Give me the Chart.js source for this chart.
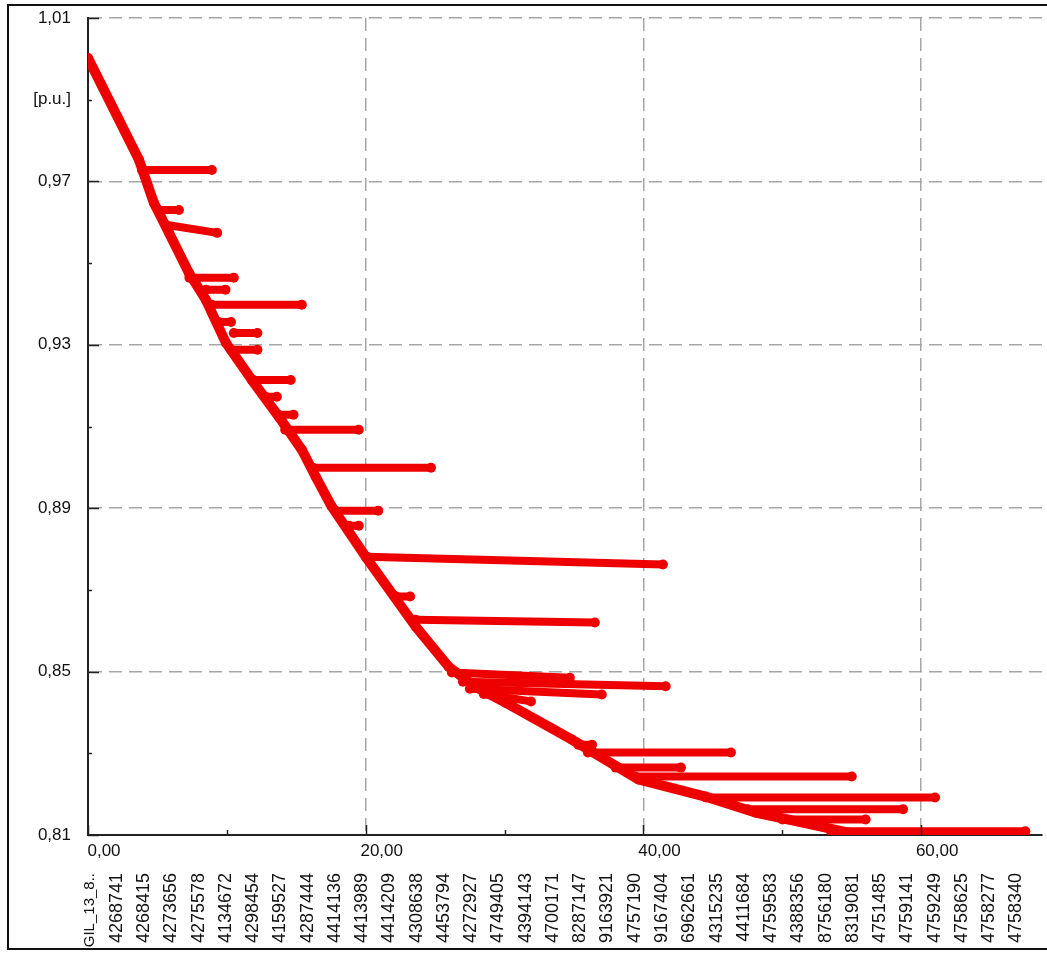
<!DOCTYPE html>
<html>
<head>
<meta charset="utf-8">
<script src="https://cdn.jsdelivr.net/npm/chart.js@4/dist/chart.umd.min.js"></script>
<style>
    html, body { margin: 0; padding: 0; overflow: hidden; background: #fff; }
    #frame {
        position: absolute; left: 7px; top: 4px;
        width: 1080px; height: 942px;
        border: 2px solid #111;
    }
    #chart { position: absolute; left: 0; top: 0; }
</style>
</head>
<body>
<div id="frame"></div>
<canvas id="chart" width="1047" height="954"></canvas>
<script>
// main voltage curve (lower envelope)
const mainX = [0, 3.67, 4.75, 5.83, 7.27, 8.49, 9.93, 11.8, 13.74, 15.4, 16.4, 17.55, 20.0,
    23.6, 25.97, 27.91, 30.07, 34.82, 39.64, 44.46, 48.06, 51.15, 54.75];
const mainY = [1.0002, 0.9753, 0.9647, 0.9574, 0.9476, 0.941, 0.9305, 0.9214, 0.9124, 0.9043,
    0.8977, 0.8904, 0.8781, 0.861, 0.8512, 0.8463, 0.8424, 0.8334, 0.8236, 0.8194, 0.8155,
    0.8133, 0.8106];

// horizontal branches: start/end x and start/end y
const branchX0 = [3.88, 5.1, 5.6, 7.3, 8.5, 8.9, 9.4, 10.5, 10.3, 11.9, 12.8, 13.7, 14.2, 16.2,
    17.8, 18.8, 20.1, 22.2, 23.6, 26.2, 27.0, 27.5, 28.5, 35.3, 36.0, 38.0, 39.4, 44.5, 47.5,
    50.0, 53.5];
const branchX1 = [8.92, 6.55, 9.3, 10.5, 9.9, 15.4, 10.3, 12.2, 12.2, 14.6, 13.6, 14.8, 19.5,
    24.7, 20.9, 19.5, 41.4, 23.2, 36.5, 34.7, 41.6, 37.0, 31.9, 36.3, 46.3, 42.7, 55.0, 61.0,
    58.7, 56.0, 67.5];
const branchY0 = [0.9728, 0.963, 0.9594, 0.9464, 0.9435, 0.9398, 0.9356, 0.9329, 0.9288, 0.9214,
    0.9173, 0.9129, 0.9092, 0.8999, 0.8894, 0.8857, 0.8781, 0.8684, 0.8627, 0.8498, 0.8475,
    0.8458, 0.8445, 0.8321, 0.8302, 0.8265, 0.8243, 0.8192, 0.8163, 0.8138, 0.8109];
const branchY1 = [0.9728, 0.963, 0.9574, 0.9464, 0.9435, 0.9398, 0.9356, 0.9329, 0.9288, 0.9214,
    0.9173, 0.9129, 0.9092, 0.8999, 0.8894, 0.8857, 0.8762, 0.8684, 0.862, 0.8485, 0.8464,
    0.8444, 0.8427, 0.8321, 0.8302, 0.8265, 0.8243, 0.8192, 0.8163, 0.8138, 0.8109];

const xTickValues = [0, 10, 20, 30, 40, 50, 60];
const xTickLabels = ['0,00', '', '20,00', '', '40,00', '', '60,00'];
const yTickValues = [0.81, 0.83, 0.85, 0.87, 0.89, 0.91, 0.93, 0.95, 0.97, 0.99, 1.01];
const yTickLabels = ['0,81', '', '0,85', '', '0,89', '', '0,93', '', '0,97', '[p.u.]', '1,01'];

const caseLabels = ['GIL_13_8..', '4268741', '4268415', '4273656', '4275578', '4134672',
    '4298454', '4159527', '4287444', '4414136', '4413989', '4414209', '4308638', '4453794',
    '4272927', '4749405', '4394143', '4700171', '8287147', '9163921', '4757190', '9167404',
    '6962661', '4315235', '4411684', '4759583', '4388356', '8756180', '8319081', '4751485',
    '4759141', '4759249', '4758625', '4758277', '4758340'];

const RED = '#ee0000';
const FONT = 'Liberation Sans, Arial, sans-serif';
const GRID = '#a6a6a6';

const datasets = [];
datasets.push({
    data: mainX.map((x, i) => ({ x: x, y: mainY[i] })),
    showLine: true,
    borderColor: RED,
    backgroundColor: RED,
    borderWidth: 10,
    borderCapStyle: 'round',
    borderJoinStyle: 'round',
    pointRadius: 5,
    pointBorderWidth: 0
});
branchX0.forEach((x0, i) => {
    datasets.push({
        data: [{ x: x0, y: branchY0[i] }, { x: branchX1[i], y: branchY1[i] }],
        showLine: true,
        borderColor: RED,
        backgroundColor: RED,
        borderWidth: 8,
        borderCapStyle: 'round',
        pointRadius: 5,
        pointBorderWidth: 0
    });
});

// short tick marks drawn inside the plot area
const innerTicks = {
    id: 'innerTicks',
    afterDatasetsDraw(chart) {
        const c = chart.ctx;
        const xs = chart.scales.x, ys = chart.scales.y;
        const area = chart.chartArea;
        c.save();
        c.strokeStyle = '#222';
        c.lineWidth = 1.5;
        ys.ticks.forEach((t, i) => {
            const py = Math.round(ys.getPixelForValue(t.value)) + 0.5;
            const len = i % 2 === 0 ? 11 : 4;
            c.beginPath();
            c.moveTo(area.left, py);
            c.lineTo(area.left + len, py);
            c.stroke();
        });
        xs.ticks.forEach((t, i) => {
            const px = Math.round(xs.getPixelForValue(t.value)) + 0.5;
            const len = i % 2 === 0 ? 10 : 5;
            c.beginPath();
            c.moveTo(px, area.bottom);
            c.lineTo(px, area.bottom - len);
            c.stroke();
        });
        c.restore();
    }
};

const noPad = s => { s.paddingLeft = 0; s.paddingRight = 0; s.paddingTop = 0; s.paddingBottom = 0; };

new Chart(document.getElementById('chart'), {
    type: 'scatter',
    data: { datasets: datasets },
    options: {
        responsive: false,
        animation: false,
        devicePixelRatio: 1,
        layout: { padding: { top: 18, left: 0, right: 0, bottom: 0 } },
        plugins: { legend: { display: false }, tooltip: { enabled: false } },
        scales: {
            x: {
                type: 'linear',
                position: 'bottom',
                weight: 0,
                min: 0,
                max: 68.7,
                afterBuildTicks: s => { s.ticks = xTickValues.map(v => ({ value: v })); },
                afterFit: s => { s.height = 36; noPad(s); },
                border: { display: true, color: '#222', width: 2, dash: [13, 7] },
                grid: {
                    drawTicks: false,
                    color: c => (c.index % 2 === 0 && c.index > 0) ? GRID : 'rgba(0,0,0,0)',
                    lineWidth: 1.5
                },
                ticks: {
                    callback: (v, i) => xTickLabels[i],
                    maxRotation: 0,
                    autoSkip: false,
                    labelOffset: 16,
                    padding: 6,
                    color: '#111',
                    font: { family: FONT, size: 17 }
                }
            },
            x2: {
                type: 'category',
                position: 'bottom',
                weight: 1,
                labels: caseLabels,
                offset: true,
                afterFit: s => { s.height = 83; noPad(s); },
                border: { display: false },
                grid: { display: false, drawTicks: false },
                ticks: {
                    autoSkip: false,
                    maxRotation: 90,
                    minRotation: 90,
                    labelOffset: -12,
                    padding: 2,
                    color: '#111',
                    font: c => c.index === 0
                        ? { family: 'Liberation Sans Narrow, Arial Narrow, sans-serif', size: 15 }
                        : { family: FONT, size: 18 }
                }
            },
            y: {
                type: 'linear',
                min: 0.81,
                max: 1.01,
                afterBuildTicks: s => { s.ticks = yTickValues.map(v => ({ value: v })); },
                afterFit: s => { s.width = 88; noPad(s); },
                border: { display: true, color: '#222', width: 2, dash: [13, 7] },
                grid: {
                    drawTicks: false,
                    color: c => (c.index % 2 === 0 && c.index > 0) ? GRID : 'rgba(0,0,0,0)',
                    lineWidth: 1.5
                },
                ticks: {
                    callback: (v, i) => yTickLabels[i],
                    autoSkip: false,
                    padding: 17,
                    color: '#111',
                    font: { family: FONT, size: 17 }
                }
            }
        }
    },
    plugins: [innerTicks]
});
</script>
</body>
</html>
